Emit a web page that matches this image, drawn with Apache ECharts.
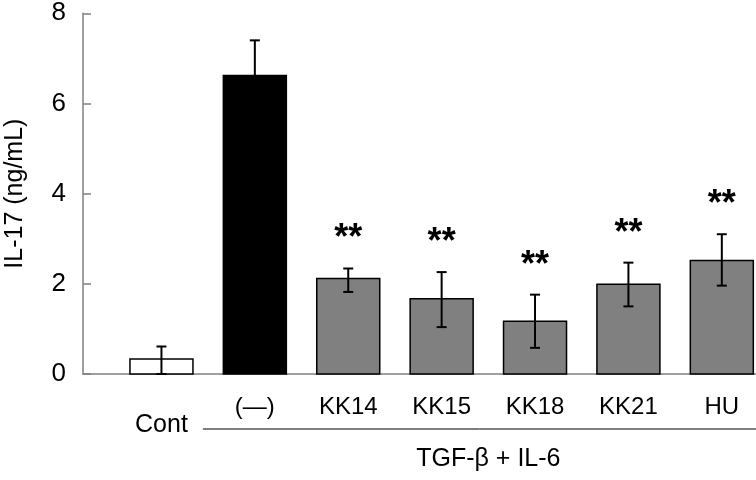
<!DOCTYPE html>
<html>
<head>
<meta charset="utf-8">
<script src="https://cdn.jsdelivr.net/npm/echarts@6/dist/echarts.min.js"></script>
<style>html,body{margin:0;padding:0;background:#fff;}#c{width:756px;height:480px;}</style>
</head>
<body>
<div id="c"></div>
<script>
var categories = ['Cont', '(\u2014)', 'KK14', 'KK15', 'KK18', 'KK21', 'HU'];
var means = [0.33, 6.62, 2.12, 1.67, 1.17, 1.99, 2.52];
var errUpper = [0.61, 7.40, 2.34, 2.26, 1.76, 2.47, 3.10];
var errLower = [0.00, 5.84, 1.82, 1.04, 0.58, 1.50, 1.96];
var significant = [false, false, true, true, true, true, true];
var fills = ['#ffffff', '#000000', '#808080', '#808080', '#808080', '#808080', '#808080'];
var yTicks = [0, 2, 4, 6, 8];
var groupLabel = 'TGF-\u03b2 + IL-6';

var FONT = 'Liberation Sans, Arial, sans-serif';
var chart = echarts.init(document.getElementById('c'), null, {renderer: 'canvas'});

var barData = means.map(function (v, i) { return [i, v]; });
var errData = means.map(function (v, i) {
  return [i, errLower[i], errUpper[i], significant[i] ? 1 : 0];
});
var BAR_W = 63;

chart.setOption({
  animation: false,
  grid: {left: 83, right: 0, top: 13.3, bottom: 106, containLabel: false, outerBoundsMode: 'none'},
  xAxis: {
    type: 'value',
    min: -0.84,
    max: 6.366,
    scale: true,
    splitLine: {show: false},
    axisLine: {show: true, onZero: false, lineStyle: {color: '#808080', width: 1.5}},
    axisTick: {show: false},
    axisLabel: {
      show: true,
      customValues: [0, 1, 2, 3, 4, 5, 6],
      margin: 21,
      fontFamily: FONT,
      fontSize: 24,
      color: '#000',
      lineHeight: 24,
      formatter: function (val) {
        var i = Math.round(val);
        if (i === 0) return '{c|' + categories[i] + '}';
        return categories[i];
      },
      rich: {c: {fontFamily: FONT, fontSize: 25, color: '#000', padding: [36, 0, 0, 0]}}
    }
  },
  yAxis: {
    type: 'value',
    min: 0,
    max: 8,
    interval: 2,
    splitLine: {show: false},
    axisLine: {show: true, onZero: false, lineStyle: {color: '#808080', width: 1.5}},
    axisTick: {show: true, inside: true, length: 8, lineStyle: {color: '#808080', width: 1.5}},
    axisLabel: {
      margin: 17, fontFamily: FONT, fontSize: 26, color: '#000',
      customValues: yTicks
    },
    name: 'IL-17 (ng/mL)',
    nameLocation: 'middle',
    nameGap: 55,
    nameRotate: 90,
    nameTextStyle: {fontFamily: FONT, fontSize: 25, color: '#000'}
  },
  series: [
    {
      type: 'custom',
      data: barData,
      z: 2,
      renderItem: function (params, api) {
        var i = api.value(0);
        var top = api.coord([i, api.value(1)]);
        var base = api.coord([i, 0]);
        return {
          type: 'rect',
          shape: {x: top[0] - BAR_W / 2, y: top[1], width: BAR_W, height: base[1] - top[1]},
          style: {fill: fills[params.dataIndex], stroke: '#000', lineWidth: 1.5}
        };
      }
    },
    {
      type: 'custom',
      data: errData,
      z: 3,
      renderItem: function (params, api) {
        var x = api.value(0);
        var lo = api.coord([x, api.value(1)]);
        var hi = api.coord([x, api.value(2)]);
        var cw = 5;
        var st = {stroke: '#000', lineWidth: 2};
        var children = [
          {type: 'line', shape: {x1: lo[0], y1: lo[1], x2: hi[0], y2: hi[1]}, style: st},
          {type: 'line', shape: {x1: hi[0] - cw, y1: hi[1], x2: hi[0] + cw, y2: hi[1]}, style: st},
          {type: 'line', shape: {x1: lo[0] - cw, y1: lo[1], x2: lo[0] + cw, y2: lo[1]}, style: st}
        ];
        if (api.value(3)) {
          children.push({
            type: 'text',
            style: {
              x: hi[0], y: hi[1] - 29, text: '**', align: 'center', verticalAlign: 'middle',
              fontFamily: FONT, fontSize: 36, fontWeight: 'bold', fill: '#000'
            }
          });
        }
        return {type: 'group', children: children};
      }
    }
  ]
});

var pL = chart.convertToPixel({gridIndex: 0}, [1, 0]);
var pM = chart.convertToPixel({gridIndex: 0}, [3.5, 0]);
chart.setOption({
  graphic: [
    {type: 'line', shape: {x1: pL[0] - 52, y1: 429, x2: 756, y2: 429}, style: {stroke: '#000', lineWidth: 1}},
    {type: 'text', style: {x: pM[0], y: 459, text: groupLabel, align: 'center', verticalAlign: 'middle',
      fontFamily: FONT, fontSize: 25, fill: '#000'}}
  ]
});
</script>
</body>
</html>
